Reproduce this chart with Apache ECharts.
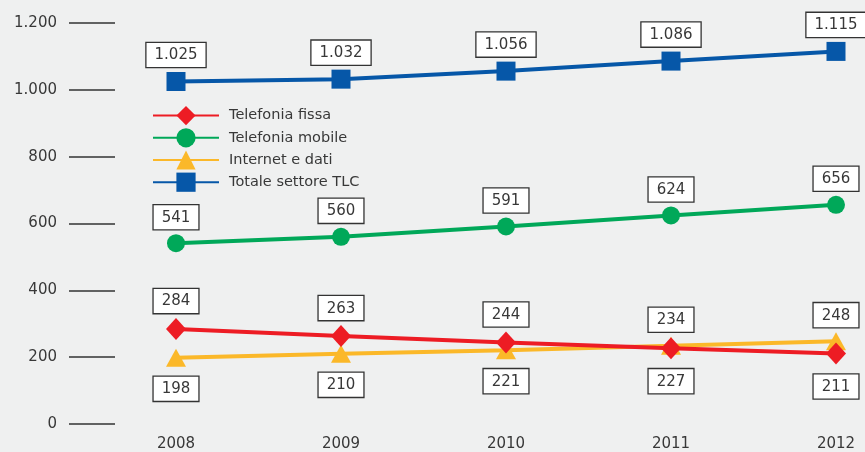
<!DOCTYPE html>
<html lang="it">
<head>
    <meta charset="UTF-8">
    <title>Ricavi TLC</title>
    <script src="https://cdn.jsdelivr.net/npm/echarts@6/dist/echarts.min.js"></script>
    <style>
        html, body { margin: 0; padding: 0; background: #eff0f0; }
    </style>
</head>
<body>
    <div id="main" style="width:865px;height:452px;"></div>

    <script>
        // dati
        const anni = ['2008', '2009', '2010', '2011', '2012'];
        const fissa = [284, 263, 244, 227, 211];
        const mobile = [541, 560, 591, 624, 656];
        const internet = [198, 210, 221, 234, 248];
        const totale = [1025, 1032, 1056, 1086, 1115];

        // lato dell'etichetta per ogni punto
        const latoFissa = ['top', 'top', 'top', 'bottom', 'bottom'];
        const latoInternet = ['bottom', 'bottom', 'bottom', 'top', 'top'];

        const font = 'DejaVu Sans';

        function fmt(n) {
            if (n >= 1000) {
                return Math.floor(n / 1000) + '.' + String(n % 1000).padStart(3, '0');
            }
            return String(n);
        }

        const boxLabel = {
            show: true,
            position: 'top',
            distance: 5,
            fontFamily: font,
            fontSize: 15,
            color: '#383838',
            backgroundColor: '#fff',
            borderColor: '#333',
            borderWidth: 1.3,
            padding: [5, 8, 4, 8],
            formatter: p => fmt(p.value)
        };

        function conLati(valori, lati) {
            return valori.map((v, i) => ({
                value: v,
                label: { position: lati[i], distance: lati[i] === 'top' ? 5 : 10 }
            }));
        }

        function serie(nome, dati, colore, simbolo, dim) {
            return {
                name: nome,
                type: 'line',
                data: dati,
                symbol: simbolo,
                symbolSize: dim,
                showAllSymbol: true,
                color: colore,
                lineStyle: { width: 4, color: colore },
                itemStyle: { color: colore },
                label: boxLabel,
                emphasis: { disabled: true }
            };
        }

        const option = {
            backgroundColor: '#eff0f0',
            animation: false,
            grid: { left: 176, right: 29, top: 23, bottom: 28 },
            legend: {
                orient: 'vertical',
                left: 147,
                top: 101,
                itemWidth: 66,
                itemHeight: 24,
                itemGap: 3,
                textStyle: { fontFamily: font, fontSize: 14.5, color: '#383838', padding: [0, 0, 0, 5] },
                data: ['Telefonia fissa', 'Telefonia mobile', 'Internet e dati', 'Totale settore TLC']
            },
            xAxis: {
                type: 'category',
                data: anni,
                boundaryGap: false,
                axisLine: { show: false },
                axisTick: { show: false },
                axisLabel: { fontFamily: font, fontSize: 15, color: '#383838', margin: 13 }
            },
            yAxis: {
                type: 'value',
                min: 0,
                max: 1200,
                interval: 200,
                offset: 61,
                splitLine: { show: false },
                axisLine: { show: false },
                axisTick: { show: true, inside: false, length: 46, lineStyle: { color: '#333', width: 1.5 } },
                axisLabel: { fontFamily: font, fontSize: 15, color: '#383838', margin: 58, formatter: v => fmt(v) }
            },
            // internet prima di fissa: i rombi rossi restano sopra i triangoli
            series: [
                serie('Internet e dati', conLati(internet, latoInternet), '#fbb829', 'triangle', [20, 18]),
                serie('Telefonia fissa', conLati(fissa, latoFissa), '#ed1c24', 'diamond', [20, 22]),
                serie('Telefonia mobile', mobile, '#00a859', 'circle', 18),
                serie('Totale settore TLC', totale, '#0657a8', 'rect', 19)
            ]
        };

        var myChart = echarts.init(document.getElementById('main'));
        myChart.setOption(option);
    </script>
</body>
</html>
